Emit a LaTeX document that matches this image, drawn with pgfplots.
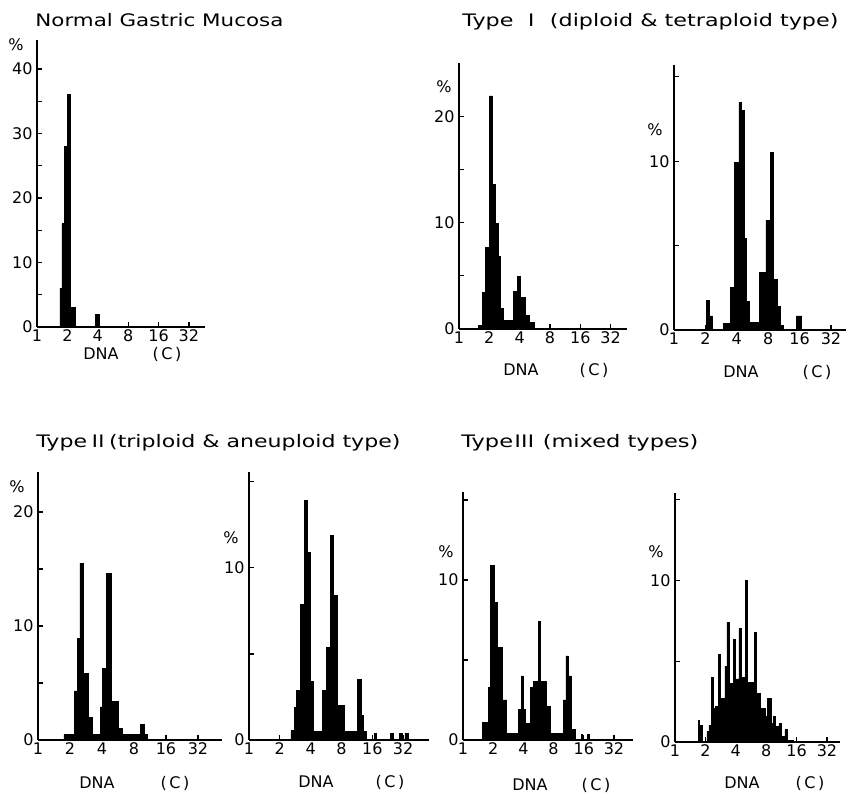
\documentclass[border=0pt]{standalone}
\usepackage{fontspec}
\setmainfont{DejaVu Sans}
\newfontfamily\cjk{Noto Sans CJK JP}
\usepackage{graphicx}
\usepackage{pgfplots}
\pgfplotsset{compat=1.18}

% x is log2 of DNA content (C); y is percent of cells
\pgfplotsset{
  hist/.style={
    scale only axis,
    anchor=south west,
    axis x line=bottom, axis y line=left,
    axis line style={-, line width=0.8pt},
    xmin=0, ymin=0,
    xtick={0,1,2,3,4,5}, xticklabels={1,2,4,8,16,32},
    tick align=inside,
    major tick length=2.5pt, minor tick length=2.5pt,
    tick style={line width=0.6pt, black},
    every tick label/.style={font=\fontsize{8}{9}\selectfont},
    xticklabel style={inner sep=1.2pt},
    yticklabel style={inner sep=2pt},
    /pgf/number format/assume math mode=true,
  },
  bars/.style={fill=black, draw=black, line width=0.4pt, const plot},
}
\newcommand{\ttl}[2]{\resizebox{#1}{\height}{\fontsize{8.6}{10}\selectfont #2}}
\newcommand{\lab}{\fontsize{8}{9}\selectfont}

\begin{document}
\begin{tikzpicture}
\useasboundingbox (0,0) rectangle (424pt,-398pt);

% ---- Normal gastric mucosa
\begin{axis}[hist, at={(18.5pt,-163.5pt)}, width=84pt, height=143.5pt,
  xmax=5.53, ymax=44.5, ytick={0,10,20,30,40}, minor ytick={5,15,25,35}]
\addplot[bars] coordinates {
  (0.757,6) (0.822,16) (0.898,28) (1.01,36) (1.109,3) (1.25,0)
  (1.93,2) (2.05,0) (2.2,0)
} \closedcycle;
\end{axis}

% ---- Type I, left
\begin{axis}[hist, at={(229.5pt,-164.5pt)}, width=84pt, height=133pt,
  xmax=5.54, ymax=25, ytick={0,10,20}, minor ytick={5,15}]
\addplot[bars] coordinates {
  (0.64,0.3) (0.78,3.4) (0.87,7.7) (1.0,21.9) (1.11,13.6) (1.2,9.9)
  (1.29,6.8) (1.37,1.9) (1.46,0.8) (1.79,3.5) (1.93,4.9) (2.04,3.0)
  (2.18,1.3) (2.32,0.65) (2.48,0) (2.6,0)
} \closedcycle;
\end{axis}

% ---- Type I, right
\begin{axis}[hist, at={(337pt,-165pt)}, width=86pt, height=132.5pt,
  xmax=5.48, ymax=15.7, ytick={0,10}, minor ytick={5,15}]
\addplot[bars] coordinates {
  (1.02,1.74) (1.13,0.83) (1.22,0) (1.57,0.4) (1.80,2.5) (1.94,9.9)
  (2.07,13.5) (2.15,13.0) (2.23,5.4) (2.31,1.7) (2.40,0.45) (2.72,3.4)
  (2.93,6.5) (3.06,10.5) (3.18,3.0) (3.29,1.4) (3.38,0.25) (3.50,0)
  (3.91,0.83) (4.07,0) (4.2,0)
} \closedcycle;
\end{axis}

% ---- Type II, left
\begin{axis}[hist, at={(19pt,-370pt)}, width=92pt, height=134pt,
  xmax=5.75, ymax=23.5, ytick={0,10,20}, minor ytick={5,15}]
\addplot[bars] coordinates {
  (0.81,0.45) (1.125,4.3) (1.23,8.9) (1.31,15.5) (1.42,5.8) (1.57,2.0)
  (1.71,0.45) (1.94,2.9) (2.02,6.3) (2.15,14.6) (2.30,3.4) (2.51,1.0)
  (2.64,0.45) (3.21,1.4) (3.31,0.45) (3.42,0) (3.6,0)
} \closedcycle;
\end{axis}

% ---- Type II, right
\begin{axis}[hist, at={(124.5pt,-370pt)}, width=90pt, height=134pt,
  xmax=5.84, ymax=15.57, ytick={0,10}, minor ytick={5,15}]
\addplot[bars] coordinates {
  (1.36,0.55) (1.46,1.9) (1.55,2.9) (1.68,7.9) (1.79,13.9) (1.89,10.9)
  (1.98,3.4) (2.09,0.5) (2.39,2.9) (2.50,5.4) (2.63,11.9) (2.74,8.4)
  (2.87,2.0) (3.08,0.5) (3.53,3.5) (3.64,1.45) (3.71,0.5) (3.82,0)
  (4.06,0.4) (4.12,0) (4.58,0.4) (4.69,0) (4.88,0.4) (4.97,0)
  (5.06,0.4) (5.18,0) (5.3,0)
} \closedcycle;
\end{axis}

% ---- Type III, left
\begin{axis}[hist, at={(231.5pt,-370pt)}, width=85pt, height=124pt,
  xmax=5.63, ymax=15.5, ytick={0,10}, minor ytick={5,15}]
\addplot[bars] coordinates {
  (0.64,1.1) (0.84,3.3) (0.92,10.9) (1.03,8.6) (1.14,5.8) (1.31,2.5)
  (1.45,0.4) (1.85,1.9) (1.93,4.0) (1.99,1.9) (2.08,1.05) (2.23,3.3)
  (2.34,3.65) (2.49,7.4) (2.56,3.65) (2.77,2.1) (2.91,0.4) (3.32,2.5)
  (3.41,5.25) (3.49,4.0) (3.60,0.65) (3.71,0) (3.93,0.35) (3.97,0)
  (4.11,0.35) (4.17,0) (4.3,0)
} \closedcycle;
\end{axis}

% ---- Type III, right
\begin{axis}[hist, at={(337.5pt,-371pt)}, width=82.5pt, height=124.5pt,
  xmax=5.43, ymax=15.4, ytick={0,10}, minor ytick={5,15}]
\addplot[bars] coordinates {
  (0.768,1.36) (0.811,1.05) (0.899,0) (1.053,0.64) (1.118,1.05)
  (1.206,4.0) (1.272,2.1) (1.338,2.2) (1.425,5.4) (1.491,2.7)
  (1.645,4.7) (1.711,7.4) (1.798,3.6) (1.930,6.35) (1.996,3.9)
  (2.105,7.0) (2.171,4.0) (2.325,10.0) (2.390,3.7) (2.610,6.8)
  (2.675,3.0) (2.796,2.1) (2.982,1.6) (3.048,2.7) (3.158,1.15)
  (3.246,1.6) (3.311,0.95) (3.421,1.15) (3.509,0.33) (3.618,0.75)
  (3.706,0.1) (3.9,0) (4.0,0)
} \closedcycle;
\end{axis}

% ---- titles
\node[anchor=base west, inner sep=0] at (17.5pt,-13.5pt)
  {\ttl{124pt}{Normal Gastric Mucosa}};
\node[anchor=base west, inner sep=0] at (231pt,-13.5pt)
  {\ttl{188pt}{Type {\cjk Ⅰ} (diploid \& tetraploid type)}};
\node[anchor=base west, inner sep=0] at (18pt,-224pt)
  {\ttl{182pt}{Type{\cjk Ⅱ}(triploid \& aneuploid type)}};
\node[anchor=base west, inner sep=0] at (230.5pt,-224pt)
  {\ttl{118.5pt}{Type{\cjk Ⅲ} (mixed types)}};

% ---- percent signs
\node[inner sep=0] at (8pt,-22.5pt) {\lab\%};
\node[inner sep=0] at (222pt,-43.5pt) {\lab\%};
\node[inner sep=0] at (327.5pt,-65pt) {\lab\%};
\node[inner sep=0] at (8.5pt,-243.5pt) {\lab\%};
\node[inner sep=0] at (115.5pt,-269pt) {\lab\%};
\node[inner sep=0] at (223pt,-276pt) {\lab\%};
\node[inner sep=0] at (328pt,-276pt) {\lab\%};

% ---- axis names
\foreach \xa/\xb/\yy in {50.5/83.5/177, 260.5/297/185, 370.5/408.5/186,
    48.5/87.5/391.5, 158/195/391, 265/298/392.5, 371/405/391.5} {
  \node[inner sep=0] at (\xa pt,-\yy pt) {\lab DNA};
  \node[inner sep=0] at (\xb pt,-\yy pt) {\lab(\,C\,)};
}
\end{tikzpicture}
\end{document}
